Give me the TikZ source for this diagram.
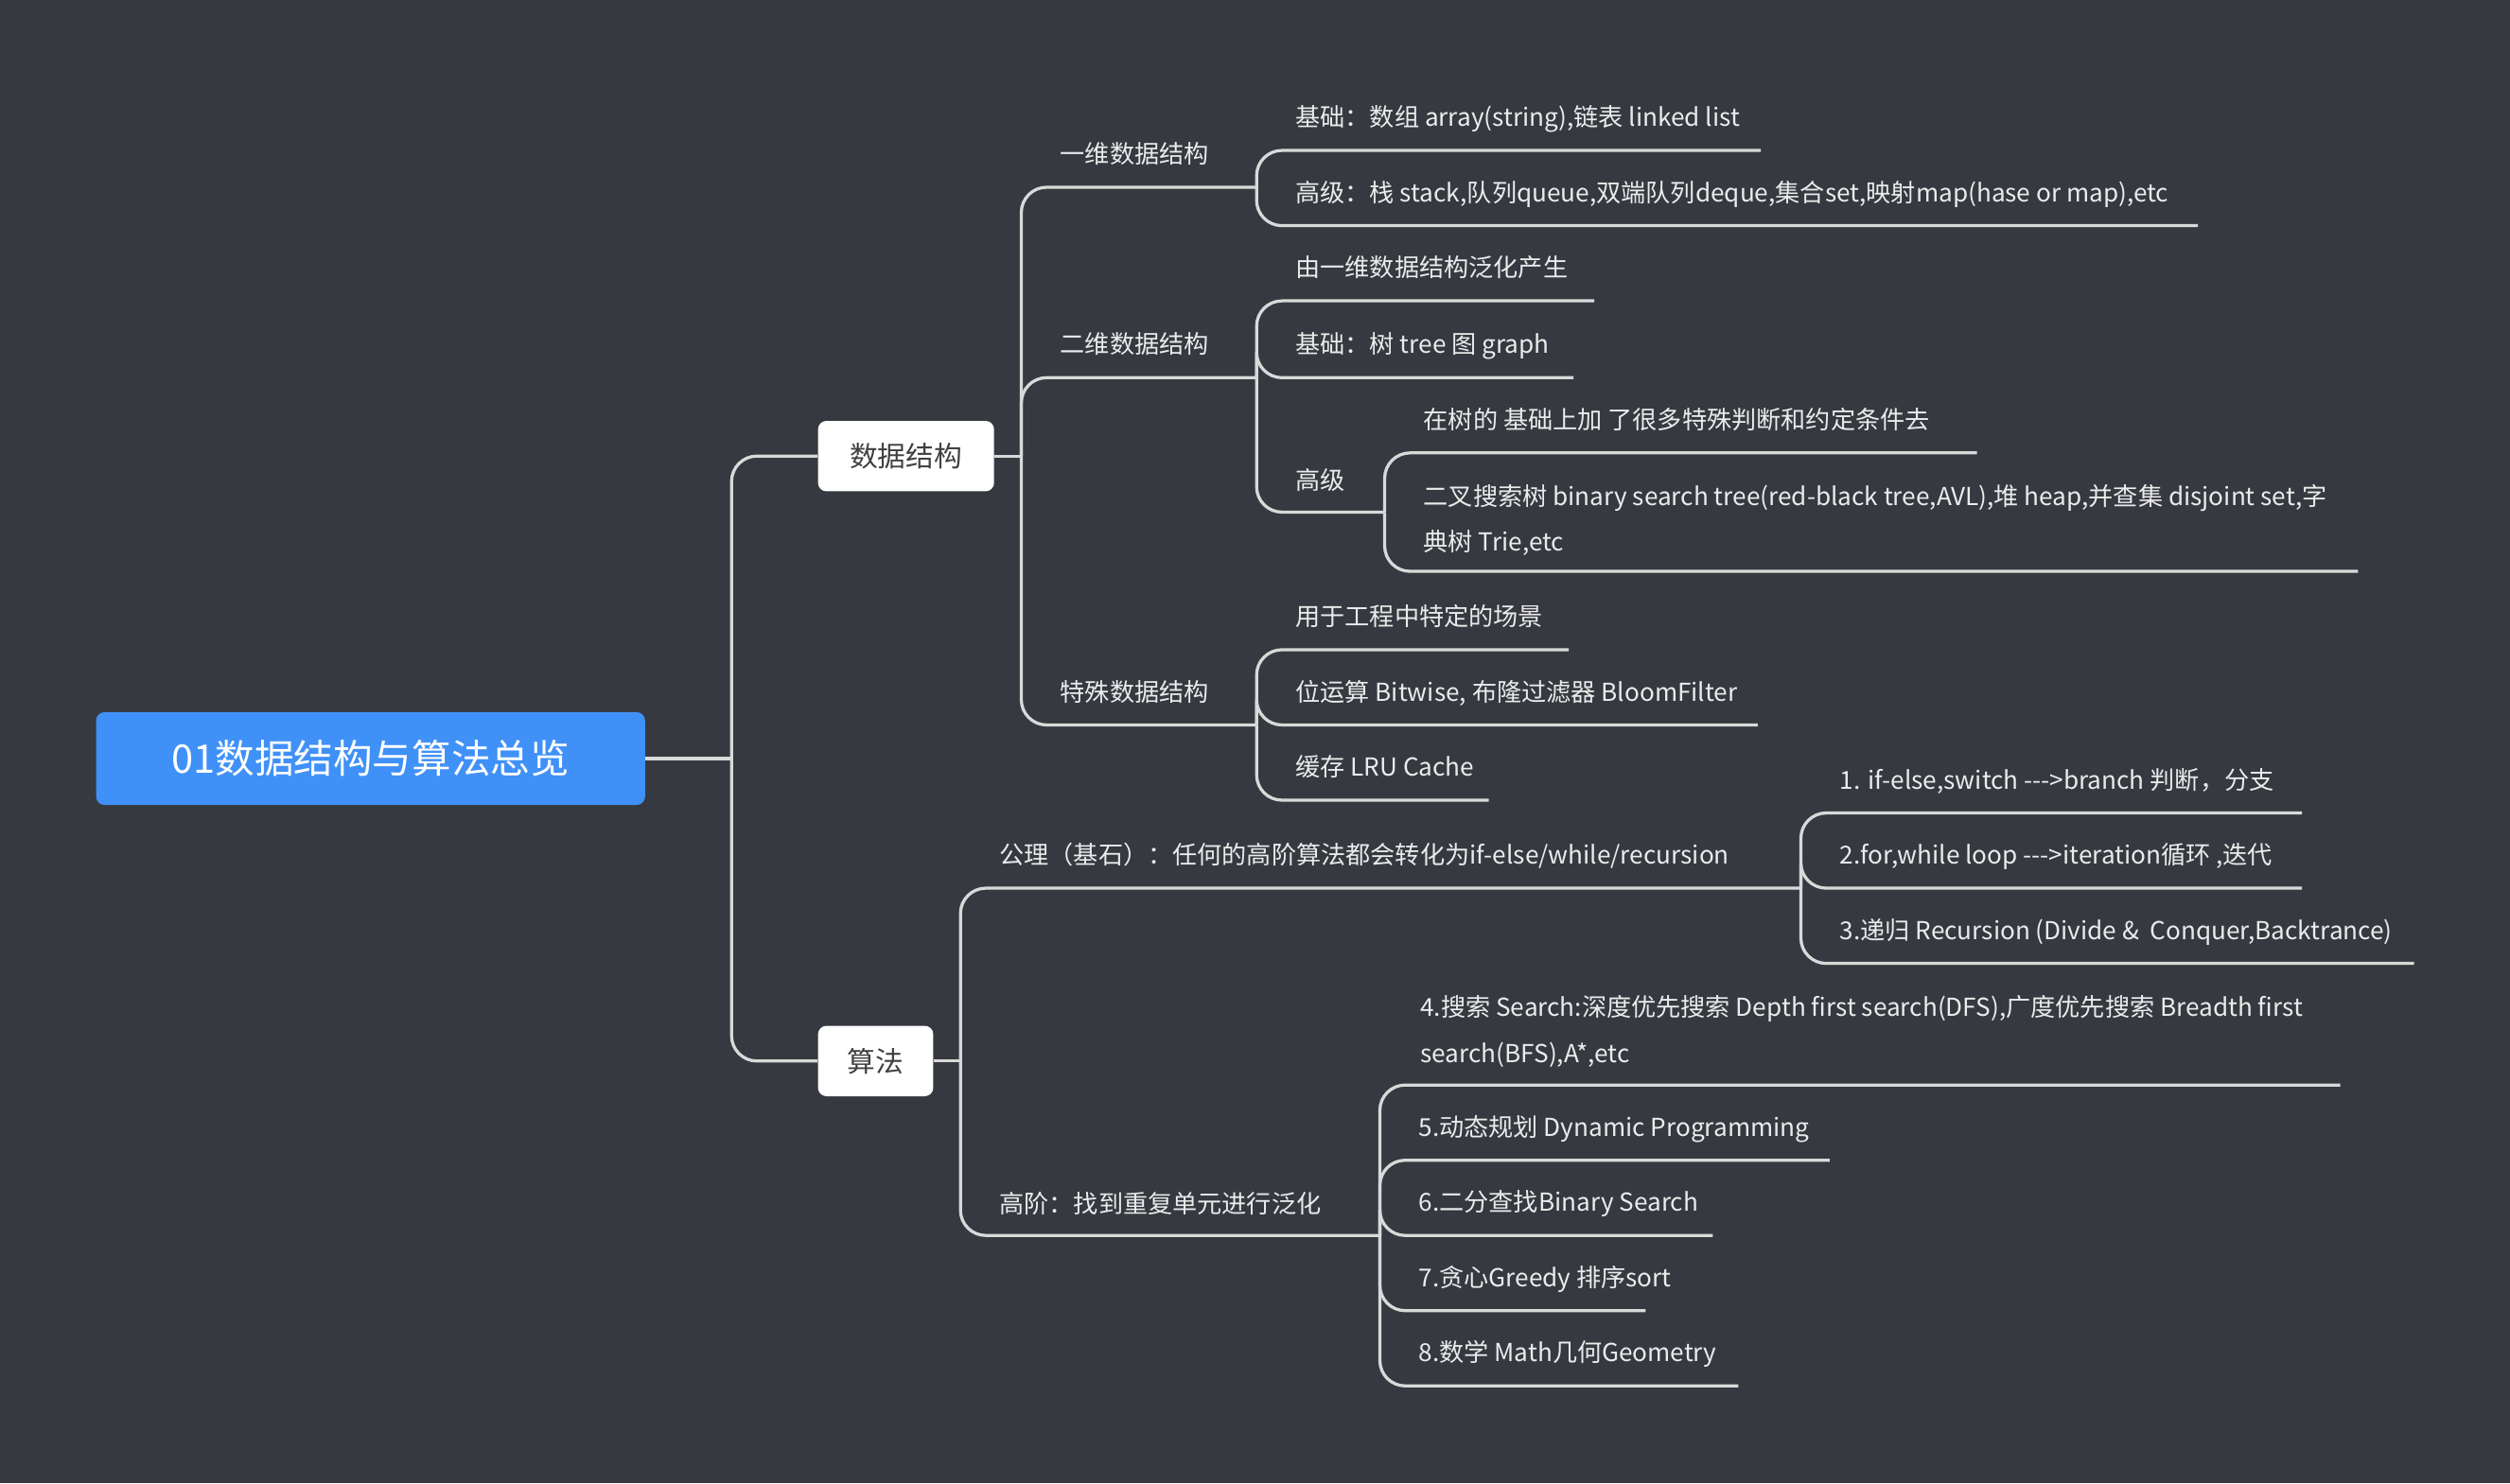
\documentclass[tikz,border=0pt]{standalone}
\usepackage{fontspec}
\setmainfont{Noto Sans CJK SC}
\begin{document}
\begin{tikzpicture}[x=0.02cm,y=-0.02cm,
  ln/.style={draw=black!15,line width=1.1pt,rounded corners=9},
  lbl/.style={anchor=base west,text=white!92!black,font=\fontsize{8.8pt}{14pt}\selectfont,inner sep=0pt},
  box/.style={fill=white,rounded corners=3pt,text=black!75,font=\fontsize{10pt}{12pt}\selectfont,minimum height=0.88cm,inner sep=0pt}]
\fill[fill={rgb,255:red,54;green,57;blue,63}] (0,0) rectangle (1568,927);
\useasboundingbox (0,0) rectangle (1568,927);
\newcommand{\lf}[5]{\draw[ln] (#1,#2) |- (#4,#3); \node[lbl] at (#1+24,#3-15) {#5};}
\node[fill={rgb,255:red,64;green,145;blue,247},rounded corners=3pt,minimum width=6.86cm,minimum height=1.16cm,text=white,font=\fontsize{14pt}{16pt}\selectfont] (root) at (231.5,474) {01数据结构与算法总览};
\node[box,minimum width=2.2cm] (ds) at (566,285) {数据结构};
\node[box,minimum width=1.44cm] (al) at (547,663) {算法};
\draw[ln] (root.east) -- (457,474);
\draw[ln] (457,474) |- (ds.west);
\draw[ln] (457,474) |- (al.west);
\draw[ln] (ds.east) -- (638,285);
\draw[ln] (638,285) |- (785,117); \node[lbl] at (662,102) {一维数据结构};
\draw[ln] (638,285) |- (785,236); \node[lbl] at (662,221) {二维数据结构};
\draw[ln] (638,285) |- (785,453); \node[lbl] at (662,438) {特殊数据结构};
\lf{785}{117}{94}{1100}{基础：数组 array(string),链表 linked list}
\lf{785}{117}{141}{1373}{高级：栈 stack,队列queue,双端队列deque,集合set,映射map(hase or map),etc}
\lf{785}{236}{188}{996}{由一维数据结构泛化产生}
\lf{785}{236}{236}{983}{基础：树 tree 图 graph}
\draw[ln] (785,236) |- (865,320); \node[lbl] at (809,306) {高级};
\lf{865}{320}{283}{1235}{在树的 基础上加 了很多特殊判断和约定条件去}
\draw[ln] (865,320) |- (1473,357);
\node[lbl] at (889,316) {二叉搜索树 binary search tree(red-black tree,AVL),堆 heap,并查集 disjoint set,字};
\node[lbl] at (889,344) {典树 Trie,etc};
\lf{785}{453}{406}{980}{用于工程中特定的场景}
\lf{785}{453}{453}{1098}{位运算 Bitwise, 布隆过滤器 BloomFilter}
\lf{785}{453}{500}{930}{缓存 LRU Cache}
\draw[ln] (al.east) -- (600,663);
\draw[ln] (600,663) |- (1125,555); \node[lbl] at (624,540) {公理（基石）：任何的高阶算法都会转化为if-else/while/recursion};
\draw[ln] (600,663) |- (862,772); \node[lbl] at (624,758) {高阶：找到重复单元进行泛化};
\lf{1125}{555}{508}{1438}{1. if-else,switch -{}-{}->branch 判断，分支}
\lf{1125}{555}{555}{1438}{2.for,while loop -{}-{}->iteration循环 ,迭代}
\lf{1125}{555}{602}{1508}{3.递归 Recursion (Divide \&\ \ Conquer,Backtrance)}
\draw[ln] (862,772) |- (1462,678);
\node[lbl] at (887,635) {4.搜索 Search:深度优先搜索 Depth first search(DFS),广度优先搜索 Breadth first};
\node[lbl] at (887,664) {search(BFS),A*,etc};
\lf{862}{772}{725}{1143}{5.动态规划 Dynamic Programming}
\lf{862}{772}{772}{1070}{6.二分查找Binary Search}
\lf{862}{772}{819}{1028}{7.贪心Greedy 排序sort}
\lf{862}{772}{866}{1086}{8.数学 Math几何Geometry}
\end{tikzpicture}
\end{document}
